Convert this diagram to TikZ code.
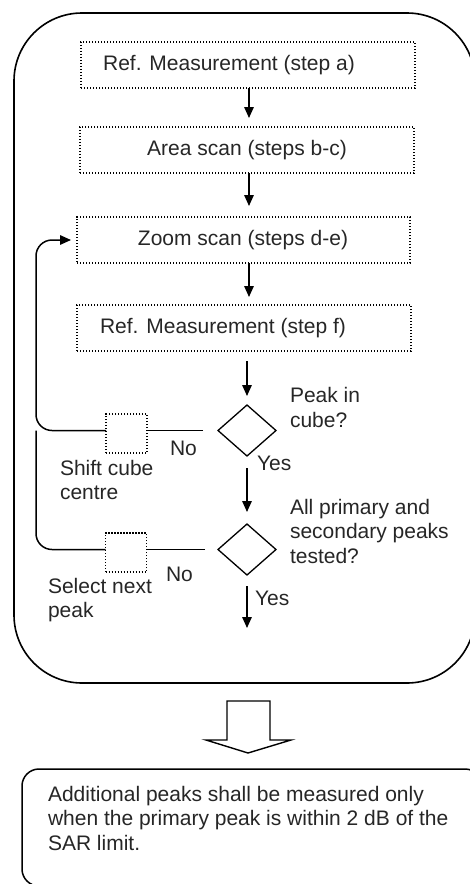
\documentclass[tikz,border=0pt]{standalone}
\usepackage{fontspec}
\setmainfont{Liberation Sans}
\usetikzlibrary{arrows.meta,shapes.geometric}
\begin{document}
\begin{tikzpicture}[x=1pt,y=-1pt,
  every node/.style={inner sep=0pt, outer sep=0pt},
  txt/.style={font=\fontsize{21}{24.5}\selectfont, text=black!85, align=left},
  stepbox/.style={draw, line width=1.4pt, dash pattern=on 1.3pt off 1.7pt, minimum height=46pt},
  smallbox/.style={draw, line width=1.4pt, dash pattern=on 1.3pt off 1.7pt, minimum width=41pt, minimum height=39pt},
  decision/.style={draw, diamond, line width=1.3pt, minimum width=58pt, minimum height=51pt},
  tipstyle/.style={-{Triangle[length=11pt,width=9.5pt]}},
  arr/.style={line width=1.5pt, tipstyle},
  conn/.style={line width=1.5pt}]
\useasboundingbox (0,0) rectangle (470,884);
\node[draw, line width=1.6pt, rounded corners=68pt, minimum width=461pt, minimum height=670pt] (outer) at (244.5,348) {};
% process boxes
\node[stepbox, minimum width=334pt] (b1) at (248,65) {};
\node[txt] (t1) at (229,65) {Ref. Measurement (step a)};
\node[stepbox, minimum width=334pt] (b2) at (247,150) {};
\node[txt] (t2) at (247,150) {Area scan (steps b-c)};
\node[stepbox, minimum width=333pt] (b3) at (243.5,240) {};
\node[txt] (t3) at (243,240) {Zoom scan (steps d-e)};
\node[stepbox, minimum width=334pt] (b4) at (244,328) {};
\node[txt] (t4) at (223,328) {Ref. Measurement (step f)};
% decisions and side boxes
\node[decision] (d1) at (247,430.5) {};
\node[decision] (d2) at (247,549.5) {};
\node[smallbox] (s1) at (126.5,433.5) {};
\node[smallbox] (s2) at (126,552.5) {};
% main arrows
\coordinate (ax) at (249,0);
\coordinate (lx) at (36,0);
\coordinate (endpt) at (247,628);
\draw[arr, shorten >=9pt] (ax |- b1.south) -- (ax |- b2.north);
\draw[arr, shorten >=11pt] (ax |- b2.south) -- (ax |- b3.north);
\draw[arr, shorten >=8pt] (ax |- b3.south) -- (ax |- b4.north);
\draw[arr, shorten <=10pt, shorten >=9pt] (d1.north |- b4.south) -- (d1.north);
\draw[arr, shorten <=12pt, shorten >=12pt] (d1.south) -- (d2.north);
\draw[arr, shorten <=11pt] (d2.south) -- (endpt);
% loops
\draw[conn, shorten <=15pt] (d1.west) -- (s1.east |- d1.west);
\draw[conn, rounded corners=16pt, tipstyle, shorten >=6pt] (s1.west |- d1.west) -| (lx |- b3.west) -- (b3.west);
\draw[conn, shorten <=13pt] (d2.west) -- (s2.east |- d2.west);
\draw[conn, rounded corners=16pt] (s2.west |- d2.west) -| (lx |- d1.west);
% labels
\node[txt, anchor=west] (l1) at (290,407.5) {Peak in\\cube?};
\node[txt, anchor=west] (y1) at (257,463) {Yes};
\node[txt, anchor=west] (n1) at (170,448) {No};
\node[txt, anchor=west] (l2) at (60,480) {Shift cube\\centre};
\node[txt, anchor=west] (l3) at (290,531) {All primary and\\secondary peaks\\tested?};
\node[txt, anchor=west] (n2) at (166,574) {No};
\node[txt, anchor=west] (l4) at (48,600) {Select next\\peak};
\node[txt, anchor=west] (y2) at (255,598) {Yes};
% big hollow arrow
\draw[line width=1.4pt, line join=miter] (227,701) -- (270,701) -- (270,740) -- (291,740) -- (248,753) -- (206,740) -- (227,740) -- cycle;
% note box
\node[draw, line width=1.5pt, rounded corners=17pt, minimum width=460pt, minimum height=117pt] (note) at (252,827.5) {};
\node[txt, anchor=west] (nt) at (48,818) {Additional peaks shall be measured only\\when the primary peak is within 2 dB of the\\SAR limit.};
\end{tikzpicture}
\end{document}
